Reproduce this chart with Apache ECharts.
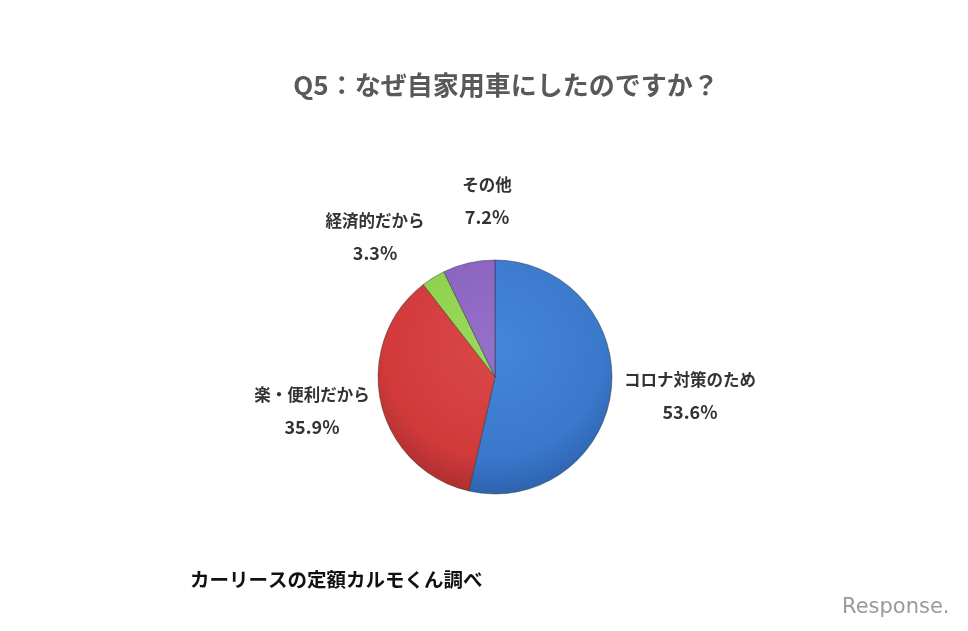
<!DOCTYPE html>
<html><head><meta charset="utf-8">
<script src="https://cdn.jsdelivr.net/npm/echarts@6/dist/echarts.min.js"></script>
<style>html,body{margin:0;padding:0;background:#fff}#c{width:968px;height:631px}</style>
</head><body><div id="c"></div>
<script>
const categories = ['コロナ対策のため', '楽・便利だから', '経済的だから', 'その他'];
const values = [53.6, 35.9, 3.3, 7.2];
const baseColors = ['#3a78cc', '#d23a3a', '#8ed04c', '#8a62c0'];
const darkColors = ['#2a5ea6', '#a42c2c', '#6aa636', '#6a4898'];
const lightColors = ['#4586d8', '#da4848', '#9bda5c', '#9570c8'];

const CX = 495, CY = 377, R = 117;
function grad(i){
  return {type:'radial', x:CX, y:CY - 30, r:R + 40, global:true,
    colorStops:[{offset:0,color:lightColors[i]},{offset:0.7,color:baseColors[i]},{offset:1,color:darkColors[i]}]};
}
const labelPos = [[690, 396], [312, 411], [375, 237], [487, 201]];
const chart = echarts.init(document.getElementById('c'));
chart.setOption({
  animation:false,
  title:{text:'Q5：なぜ自家用車にしたのですか？', left:501, top:67, textAlign:'center',
    textStyle:{fontFamily:'"Noto Sans CJK JP"', fontWeight:'bold', fontSize:26, color:'#595959'}},
  graphic:[
    {type:'text', left:190, top:570, style:{text:'カーリースの定額カルモくん調べ', font:'bold 19.5px "Noto Sans CJK JP"', fill:'#111'}},
    {type:'text', left:842, top:597, style:{text:'Response.', font:'21px "DejaVu Sans"', fill:'#9a9a9a'}}
  ],
  series:[{
    type:'pie', center:[CX, CY], radius:R, startAngle:90, clockwise:true,
    data: categories.map((n,i)=>({name:n, value:values[i], itemStyle:{color:grad(i)}})),
    itemStyle:{borderColor:'rgba(40,40,40,0.55)', borderWidth:0.8},
    label:{show:true, position:'outside', formatter:p=>'{n|'+p.name+'}\n{v|'+p.value.toFixed(1)+'%}',
      rich:{
        n:{fontFamily:'"Noto Sans CJK JP"', fontWeight:'bold', fontSize:16.5, color:'#333', lineHeight:32, align:'center'},
        v:{fontFamily:'"Noto Sans CJK JP"', fontWeight:'bold', fontSize:18, color:'#333', lineHeight:32, align:'center'}
      }},
    labelLine:{show:false},
    labelLayout:function(p){ const o = labelPos[p.dataIndex]; return {x:o[0], y:o[1], align:'center', verticalAlign:'middle'}; }
  }]
});
</script></body></html>
